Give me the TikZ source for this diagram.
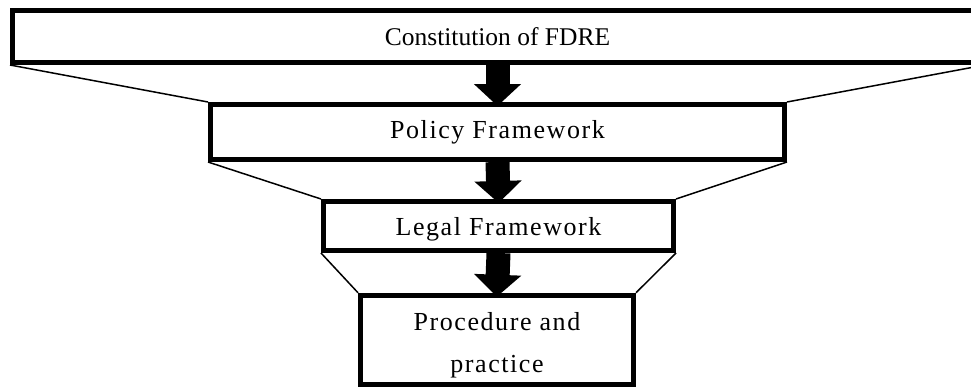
\documentclass[tikz,border=0pt]{standalone}
\usepackage{fontspec}
\setmainfont{Liberation Serif}[LetterSpace=6.0]
\usetikzlibrary{arrows.meta,positioning}

\begin{document}
\begin{tikzpicture}[x=1pt, y=-1pt,
        tierbox/.style={draw=black, line width=5pt, fill=white, inner sep=0pt,
            font=\fontsize{26}{42}\selectfont, align=center},
        tiertext/.style={inner sep=0pt, font=\fontsize{26}{42}\selectfont, align=center},
        fanline/.style={draw=black, line width=1.5pt},
        flowarrow/.style={draw=black, line width=24pt,
            -{Triangle[width=46pt, length=22pt]}, shorten >=-4pt}]
        \useasboundingbox (0,0) rectangle (971,389);

        % Tiers, widest at the top
        \node[tierbox, minimum width=970pt, minimum height=52pt,
            font=\fontsize{25.5}{30}\selectfont\addfontfeature{LetterSpace=0.0}] (fdre) at (497.5,36.5) {Constitution of FDRE};
        \node[tierbox, minimum width=574pt, minimum height=55pt] (policy) at (497.5,132) {Policy Framework};
        \node[tierbox, minimum width=350pt, minimum height=49pt] (legal) at (498.5,226) {};
        \node[tiertext] (legaltext) at ([yshift=-3pt]legal.center) {Legal Framework};
        \node[tierbox, minimum width=273pt, minimum height=89.5pt] (practice) at (497,340) {};
        \node[tiertext] (practicetext) at ([yshift=-5pt]practice.center) {Procedure and\\practice};

        % Funnel sides between the tiers
        \foreach \upper/\lower in {fdre/policy, policy/legal, legal/practice} {
            \draw[fanline] (\upper.south west) -- (\lower.north west);
            \draw[fanline] (\upper.south east) -- (\lower.north east);
        }

        % Block arrows down the funnel
        \draw[flowarrow] (fdre.south) -- (policy.north);
        \draw[flowarrow] (policy.south) -- (legal.north);
        \draw[flowarrow] (legal.south) -- (practice.north);
    \end{tikzpicture}
\end{document}
